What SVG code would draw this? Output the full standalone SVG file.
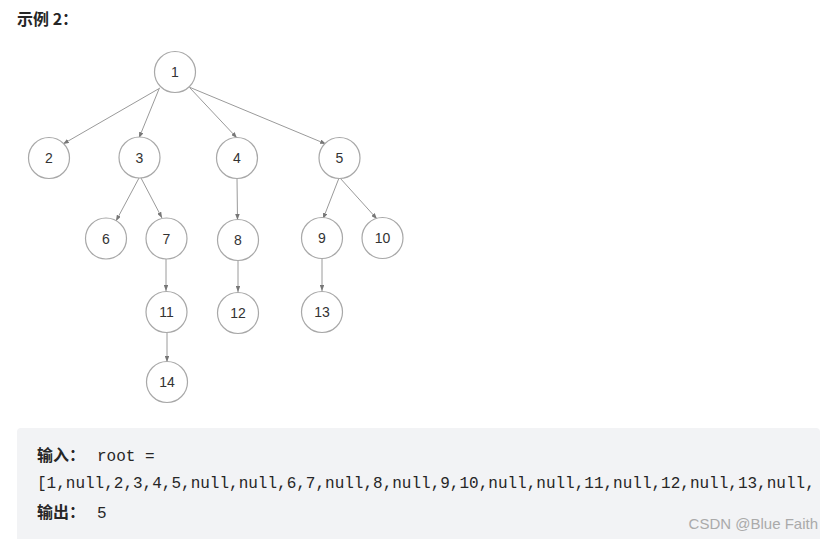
<svg xmlns="http://www.w3.org/2000/svg" width="833" height="539" viewBox="0 0 833 539">
<style>
.node circle{fill:#fff;stroke:#a8a8a8;stroke-width:1.2}
.node text{font-family:"Liberation Sans",Arial,sans-serif;font-size:14px;fill:#333;text-anchor:middle;dominant-baseline:central}
.edges line{stroke:#9a9a9a;stroke-width:1;marker-end:url(#arr)}
.cjk{font-family:"Noto Sans CJK SC","Noto Sans",sans-serif;font-size:16px;font-weight:bold;fill:#262626}
.mono{font-family:"Liberation Mono","DejaVu Sans Mono",monospace;font-size:16px;fill:#262626}
</style>
<defs>
<marker id="arr" viewBox="0 0 8 6" refX="8" refY="3" markerWidth="6" markerHeight="4.5" markerUnits="userSpaceOnUse" orient="auto">
<path d="M0,0 L8,3 L0,6 z" fill="#777"/>
</marker>
</defs>
<rect width="833" height="539" fill="#fff"/>
<text x="17" y="25" class="cjk" style="font-size:16px">示例 2：</text>

<g class="edges">
<line x1="160" y1="88" x2="63" y2="144"/>
<line x1="159" y1="89" x2="139" y2="138"/>
<line x1="190" y1="88" x2="237" y2="138"/>
<line x1="189" y1="87" x2="326" y2="144"/>
<line x1="139" y1="178" x2="116" y2="221"/>
<line x1="141" y1="178" x2="162" y2="218"/>
<line x1="237" y1="178" x2="237.5" y2="220"/>
<line x1="339" y1="178" x2="323" y2="219"/>
<line x1="340" y1="178" x2="377" y2="219"/>
<line x1="166" y1="259" x2="166" y2="291"/>
<line x1="238" y1="260" x2="238" y2="292"/>
<line x1="322" y1="259" x2="322" y2="291"/>
<line x1="167" y1="332" x2="167" y2="362"/>
</g>

<g id="n1" class="node"><circle cx="175" cy="72" r="20.5"/><text x="175" y="72">1</text></g>
<g id="n2" class="node"><circle cx="49" cy="158" r="20.5"/><text x="49" y="158">2</text></g>
<g id="n3" class="node"><circle cx="139.5" cy="157.5" r="20.5"/><text x="139.5" y="157.5">3</text></g>
<g id="n4" class="node"><circle cx="237" cy="158" r="20.5"/><text x="237" y="158">4</text></g>
<g id="n5" class="node"><circle cx="339.5" cy="158" r="20.5"/><text x="339.5" y="158">5</text></g>
<g id="n6" class="node"><circle cx="106" cy="238.5" r="20.5"/><text x="106" y="238.5">6</text></g>
<g id="n7" class="node"><circle cx="166.5" cy="238.5" r="20.5"/><text x="166.5" y="238.5">7</text></g>
<g id="n8" class="node"><circle cx="238" cy="240" r="20.5"/><text x="238" y="240">8</text></g>
<g id="n9" class="node"><circle cx="322" cy="238" r="20.5"/><text x="322" y="238">9</text></g>
<g id="n10" class="node"><circle cx="382.5" cy="238" r="20.5"/><text x="382.5" y="238">10</text></g>
<g id="n11" class="node"><circle cx="166.5" cy="312" r="20.5"/><text x="166.5" y="312">11</text></g>
<g id="n12" class="node"><circle cx="238" cy="313" r="20.5"/><text x="238" y="313">12</text></g>
<g id="n13" class="node"><circle cx="322" cy="312" r="20.5"/><text x="322" y="312">13</text></g>
<g id="n14" class="node"><circle cx="167" cy="382" r="20.5"/><text x="167" y="382">14</text></g>

<g id="codebox">
<rect x="17" y="428" width="803" height="125" rx="4" fill="#f2f3f5"/>
<text x="37" y="461" class="cjk">输入：</text>
<text x="97" y="461" class="mono">root =</text>
<text x="37" y="488" class="mono">[1,null,2,3,4,5,null,null,6,7,null,8,null,9,10,null,null,11,null,12,null,13,null,</text>
<text x="37" y="518" class="cjk">输出：</text>
<text x="97" y="518" class="mono">5</text>
<text x="818" y="529" font-family="'Liberation Sans',Arial,sans-serif" font-size="15" fill="#aaa" text-anchor="end">CSDN @Blue Faith</text>
</g>
</svg>
